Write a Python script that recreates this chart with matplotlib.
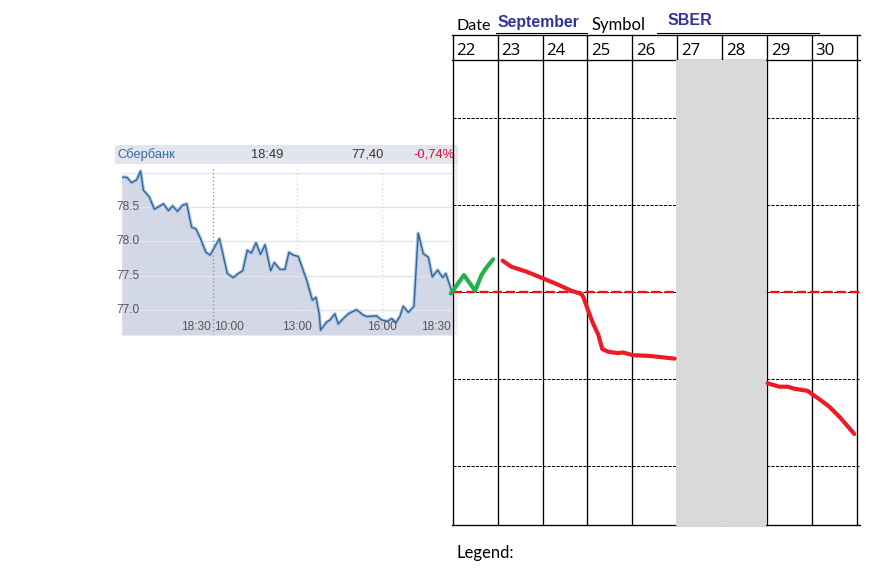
import matplotlib
matplotlib.use("Agg")
import matplotlib.pyplot as plt
from matplotlib.patches import Rectangle
from matplotlib.transforms import blended_transform_factory

# ---------------- data ----------------
# intraday SBER quote (hours relative to 10:00 of the current session, price)
intraday_t = [-3.23, -3.05, -2.88, -2.70, -2.56, -2.46, -2.25, -2.07, -1.75, -1.57,
              -1.42, -1.25, -1.07, -0.92, -0.75, -0.59, -0.43, -0.24, -0.09, 0.24,
              0.52, 0.73, 0.91, 1.07, 1.23, 1.38, 1.54, 1.70, 1.86, 2.06,
              2.19, 2.39, 2.57, 2.71, 2.86, 3.04, 3.34, 3.54, 3.67, 3.79,
              3.83, 4.05, 4.17, 4.34, 4.46, 4.64, 4.82, 5.11, 5.35, 5.49,
              5.82, 6.00, 6.21, 6.36, 6.51, 6.65, 6.77, 6.95, 7.15, 7.30,
              7.48, 7.66, 7.80, 7.99, 8.17, 8.28, 8.49]
intraday_p = [78.94, 78.94, 78.86, 78.90, 79.03, 78.75, 78.65, 78.47, 78.55, 78.45,
              78.52, 78.44, 78.53, 78.55, 78.21, 78.18, 78.04, 77.84, 77.80, 78.04,
              77.53, 77.47, 77.53, 77.57, 77.87, 77.83, 77.98, 77.81, 77.95, 77.57,
              77.69, 77.59, 77.59, 77.84, 77.80, 77.78, 77.43, 77.14, 77.18, 76.92,
              76.70, 76.82, 76.85, 76.94, 76.79, 76.87, 76.94, 77.00, 76.92, 76.90,
              76.91, 76.85, 76.83, 76.87, 76.81, 76.90, 77.05, 76.96, 77.05, 78.12,
              77.82, 77.77, 77.48, 77.58, 77.47, 77.53, 77.27]
price_ticks = [77.0, 77.5, 78.0, 78.5]
time_ticks = ["18:30", "10:00", "13:00", "16:00", "18:30"]
time_tick_pos = [0.0, 0.0, 3.0, 6.0, 8.49]
header_name = "Сбербанк"
header_time = "18:49"
header_price = "77,40"
header_change = "-0,74%"

# hand-drawn forecast on the calendar grid (day, price)
days = [22, 23, 24, 25, 26, 27, 28, 29, 30]
weekend = (27, 29)
green_day = [21.96, 22.25, 22.50, 22.64, 22.74, 22.90]
green_price = [77.23, 77.50, 77.27, 77.50, 77.60, 77.73]
red1_day = [23.11, 23.31, 23.64, 23.94, 24.31, 24.61, 24.87, 24.92, 25.01, 25.12,
            25.24, 25.33, 25.46, 25.68, 25.79, 26.01, 26.38, 26.94]
red1_price = [77.71, 77.62, 77.55, 77.47, 77.37, 77.28, 77.22, 77.16, 76.99, 76.80,
              76.63, 76.42, 76.38, 76.36, 76.37, 76.33, 76.32, 76.28]
red2_day = [29.01, 29.27, 29.46, 29.61, 29.90, 30.09, 30.24, 30.38, 30.61, 30.94]
red2_price = [75.92, 75.87, 75.87, 75.84, 75.81, 75.72, 75.65, 75.58, 75.43, 75.18]
level = 77.25

# ---------------- figure ----------------
W, H = 889, 584
fig = plt.figure(figsize=(W / 100, H / 100), dpi=100)
fig.patch.set_facecolor("white")


def px_axes(x0, y0, x1, y1, z):
    a = fig.add_axes([x0 / W, 1 - y1 / H, (x1 - x0) / W, (y1 - y0) / H])
    a.set_zorder(z)
    a.patch.set_alpha(0)
    a.axis("off")
    return a


# background layer (pixel coordinates)
bg = px_axes(0, 0, W, H, 0)
bg.set_xlim(0, W)
bg.set_ylim(H, 0)
bg.add_patch(Rectangle((115, 145), 343, 19, facecolor="#e2e5ee", edgecolor="none"))
bg.add_patch(Rectangle((452, 164), 6, 171, facecolor="#f2f2f2", edgecolor="none"))
sf = "Liberation Sans"
bg.text(117, 154.5, header_name, ha="left", va="center", fontsize=9.3, color="#3a6aa8", family=sf)
bg.text(267, 154.5, header_time, ha="center", va="center", fontsize=9.3, color="#333333", family=sf)
bg.text(368, 154.5, header_price, ha="center", va="center", fontsize=9.3, color="#333333", family=sf)
bg.text(455, 154.5, header_change, ha="right", va="center", fontsize=9.3, color="#e0102a", family=sf)

# stock chart
ax = px_axes(121.7, 167, 451.7, 335, 1)
ylo, yhi = 76.63, 79.09
ax.set_xlim(intraday_t[0], intraday_t[-1])
ax.set_ylim(ylo, yhi)
ax.patch.set_alpha(1)
ax.patch.set_facecolor("white")
ax.fill_between(intraday_t, intraday_p, ylo, color="#d3d8e6", lw=0, zorder=1)
for v in price_ticks + [79.0]:
    ax.axhline(v, color="#e3e5ec", lw=1.0, zorder=2)
ax.axvline(0.0, color="#8a8a8a", ls=(0, (1, 2)), lw=0.9, zorder=2)
ax.axvline(3.0, color="#d6d6d6", ls=(0, (1, 2)), lw=0.9, zorder=2)
ax.axvline(6.0, color="#d6d6d6", ls=(0, (1, 2)), lw=0.9, zorder=2)
ax.plot(intraday_t, intraday_p, color="#b3c5dc", lw=2.6, zorder=3, solid_joinstyle="round")
ax.plot(intraday_t, intraday_p, color="#2a68a2", lw=1.0, zorder=4)
tr_y = blended_transform_factory(ax.transAxes, ax.transData)
for v in price_ticks:
    ax.text(-0.016, v, f"{v:.1f}", transform=tr_y, ha="left", va="center",
            fontsize=8.6, color="#555555", family=sf, clip_on=False, zorder=5)
tr_x = blended_transform_factory(ax.transData, ax.transAxes)
aligns = ["right", "left", "center", "center", "right"]
offs = [-0.08, 0.06, 0, 0, -0.02]
for lab, pos, al, o in zip(time_ticks, time_tick_pos, aligns, offs):
    ax.text(pos + o, 0.05, lab, transform=tr_x, ha=al, va="center",
            fontsize=8.6, color="#555555", family=sf, zorder=5)

# calendar table (pixel coordinates)
tb = px_axes(0, 0, W, H, 2)
tb.set_xlim(0, W)
tb.set_ylim(H, 0)
x_left, x_right = 452.7, 857.0
col_w = (x_right - x_left) / len(days)
top, mid, bot = 35, 60, 524.5
for y in (top, mid, bot):
    tb.plot([452.2, 860], [y, y], color="black", lw=0.95)
for i in range(len(days) + 1):
    x = x_left + i * col_w
    tb.plot([x, x], [top, bot], color="black", lw=0.95)
for y in (118, 205, 292, 379, 466):
    tb.plot([x_left, x_right + 2], [y, y], color="black", lw=0.75, dashes=(3, 1.3))
tf = "Lato"
for i, d in enumerate(days):
    tb.text(x_left + i * col_w + 3.5, 55, str(d), ha="left", va="baseline",
            fontsize=12.2, family="Open Sans", color="black")
tb.text(456.5, 29.5, "Date", ha="left", va="baseline", fontsize=11.6, family=tf)
tb.text(591.5, 30, "Symbol", ha="left", va="baseline", fontsize=12, family=tf)
tb.text(498, 26.7, "September", ha="left", va="baseline", fontsize=11.3,
        fontweight="bold", family=sf, color="#333399")
tb.text(668, 25, "SBER", ha="left", va="baseline", fontsize=11.5,
        fontweight="bold", family=sf, color="#333399")
tb.plot([496, 587], [32.5, 32.5], color="black", lw=0.8)
tb.plot([656.5, 818.5], [32.5, 32.5], color="black", lw=0.8)
tb.text(456.5, 558.3, "Legend:", ha="left", va="baseline", fontsize=12, family=tf)

# forecast drawing on the calendar grid
ad = px_axes(x_left, mid, x_right, bot, 3)
ad.set_xlim(days[0], days[-1] + 1)
ad.set_ylim(77.0 - (bot - 309.3) / 68.5, 77.0 + (309.3 - mid) / 68.5)
ad.plot([days[0], days[-1] + 1.07], [level, level], color="#f21010", lw=1.7,
        dashes=(3.9, 1.7), zorder=1, clip_on=False)
ad.axvspan(weekend[0] - 0.03, weekend[1] - 0.015, ymin=-0.003, ymax=1, color="#d9d9d9",
           lw=0, zorder=2, clip_on=False)
ad.plot(green_day, green_price, color="#22b14c", lw=3.0, solid_capstyle="round",
        solid_joinstyle="round", zorder=3, clip_on=False)
ad.plot(red1_day, red1_price, color="#ed1c24", lw=3.0, solid_capstyle="round",
        solid_joinstyle="round", zorder=3)
ad.plot(red2_day, red2_price, color="#ed1c24", lw=3.0, solid_capstyle="round",
        solid_joinstyle="round", zorder=3)

fig.savefig("out.png", dpi=100, facecolor="white")
